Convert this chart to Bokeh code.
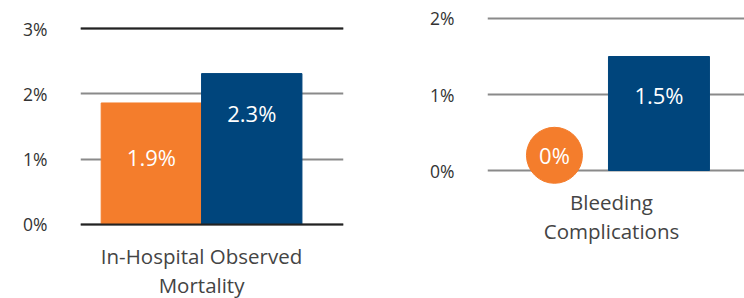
from bokeh.plotting import figure
from bokeh.layouts import row
from bokeh.models import ColumnDataSource, Range1d, FixedTicker, Span
from bokeh.core.properties import value
from bokeh.transform import dodge
from bokeh.embed import file_html
from bokeh.resources import INLINE

# ---- data ----
series_colors = ["#F47D2C", "#00457C"]
series_x = [0, 1]

mort_values = [1.86, 2.31]
mort_labels = ["1.9%", "2.3%"]
mort_category = ["In-Hospital Observed", "Mortality"]
mort_ticks = [0, 1, 2, 3]
mort_tick_labels = ["0%", "1%", "2%", "3%"]

bleed_values = [0.0, 1.5]
bleed_labels = ["0%", "1.5%"]
bleed_category = ["Bleeding", "Complications"]
bleed_ticks = [0, 1, 2]
bleed_tick_labels = ["0%", "1%", "2%"]

FONT = "Open Sans"
GRAY = "#8a8a8a"
DARK = "#222222"
H = 298


def base_fig(width, xr, yr, ticks, tick_labels, bl, br):
    p = figure(width=width, height=H, x_range=xr, y_range=yr,
               output_backend="svg", toolbar_location=None,
               min_border_left=bl, min_border_right=br,
               min_border_top=0, min_border_bottom=0)
    p.outline_line_color = None
    p.xaxis.visible = False
    p.xgrid.visible = False
    p.ygrid.ticker = FixedTicker(ticks=ticks)
    p.ygrid.grid_line_color = GRAY
    p.ygrid.grid_line_width = 2
    ax = p.yaxis[0]
    ax.ticker = FixedTicker(ticks=ticks)
    ax.major_label_overrides = {t: l for t, l in zip(ticks, tick_labels)}
    ax.axis_line_color = None
    ax.major_tick_line_color = None
    ax.minor_tick_line_color = None
    ax.major_tick_out = 0
    ax.major_tick_in = 0
    ax.major_label_standoff = 33
    ax.major_label_text_font = FONT
    ax.major_label_text_font_size = "17.5px"
    ax.major_label_text_color = "#333333"
    return p


def category_labels(p, lines, x, offsets):
    src = ColumnDataSource(dict(x=[x] * len(lines), y=[0] * len(lines),
                                text=lines, off=offsets))
    p.text(x="x", y="y", y_offset="off", text="text", source=src,
           text_align="center", text_baseline="middle",
           text_font=value(FONT), text_font_size="20.5px", text_color="#444444")


# ---- left panel ----
p1 = base_fig(372, Range1d(-0.706, 1.914), Range1d(-1.1327, 3.4286),
              mort_ticks, mort_tick_labels, 80, 29)
src1 = ColumnDataSource(dict(x=series_x, top=mort_values, color=series_colors,
                             label=mort_labels, off=[54, 39]))
p1.vbar(x="x", top="top", bottom=0, width=1.0, color="color", source=src1)
for yv in (0, 3):
    p1.add_layout(Span(location=yv, dimension="width", line_color=DARK, line_width=2))
p1.text(x="x", y="top", y_offset="off", text="label", source=src1,
        text_align="center", text_baseline="middle", text_color="white",
        text_font=value(FONT), text_font_size="22px")
category_labels(p1, mort_category, 0.5, [32, 61])

# ---- right panel ----
p2 = base_fig(372, Range1d(-0.698, 1.847), Range1d(-1.684, 2.2368),
              bleed_ticks, bleed_tick_labels, 115, 0)
src2b = ColumnDataSource(dict(x=series_x[1:], top=bleed_values[1:],
                              color=series_colors[1:], label=bleed_labels[1:]))
src2c = ColumnDataSource(dict(x=series_x[:1], top=bleed_values[:1],
                              color=series_colors[:1], label=bleed_labels[:1]))
p2.vbar(x="x", top="top", bottom=0, width=1.0, color="color", source=src2b)
p2.text(x="x", y="top", y_offset=38, text="label", source=src2b,
        text_align="center", text_baseline="middle", text_color="white",
        text_font=value(FONT), text_font_size="22px")
p2.scatter(x=dodge("x", -0.035, range=p2.x_range),
           y=dodge("top", 0.2, range=p2.y_range),
           size=56, color="color", source=src2c)
p2.text(x=dodge("x", -0.035, range=p2.x_range),
        y=dodge("top", 0.2, range=p2.y_range),
        text="label", source=src2c,
        text_align="center", text_baseline="middle", text_color="white",
        text_font=value(FONT), text_font_size="22px")
category_labels(p2, bleed_category, 0.53, [31, 60])

layout = row(p1, p2)
open("out.html", "w").write(file_html(layout, INLINE))
